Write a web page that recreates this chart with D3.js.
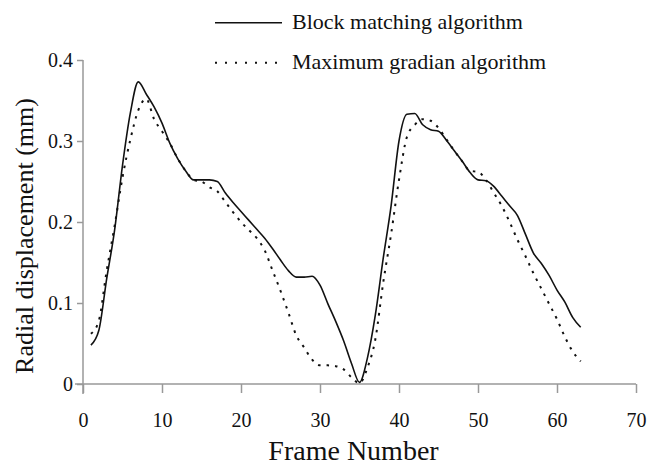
<!DOCTYPE html>
<html>
<head>
<meta charset="utf-8">
<script src="https://cdn.jsdelivr.net/npm/d3@7"></script>
<style>
  body { margin: 0; background: #fff; }
  svg text { font-family: "Liberation Serif", "DejaVu Serif", serif; }
</style>
</head>
<body>
<div id="chart"></div>
<script>
// frame numbers 1..63
const FRAMES = d3.range(1, 64);

// radial displacement (mm), block matching
const BLOCK_MATCHING = [
  0.048, 0.066, 0.130, 0.190, 0.270, 0.335, 0.373, 0.358, 0.342, 0.322,
  0.297, 0.278, 0.263, 0.252, 0.252, 0.252, 0.250, 0.236, 0.224, 0.213,
  0.202, 0.191, 0.180, 0.167, 0.153, 0.140, 0.132, 0.132, 0.133, 0.122,
  0.099, 0.077, 0.053, 0.025, 0.002, 0.032, 0.085, 0.155, 0.220, 0.300,
  0.333, 0.334, 0.320, 0.314, 0.312, 0.301, 0.288, 0.275, 0.261, 0.252,
  0.251, 0.244, 0.232, 0.220, 0.208, 0.185, 0.162, 0.149, 0.134, 0.116,
  0.101, 0.082, 0.070
];

// radial displacement (mm), maximum gradian
const MAX_GRADIAN = [
  0.062, 0.078, 0.140, 0.195, 0.255, 0.302, 0.338, 0.352, 0.327, 0.312,
  0.297, 0.278, 0.263, 0.252, 0.250, 0.243, 0.238, 0.225, 0.212, 0.200,
  0.190, 0.180, 0.165, 0.140, 0.115, 0.088, 0.060, 0.045, 0.030, 0.023,
  0.023, 0.022, 0.018, 0.008, 0.001, 0.020, 0.055, 0.125, 0.185, 0.252,
  0.305, 0.320, 0.327, 0.325, 0.316, 0.302, 0.288, 0.275, 0.263, 0.262,
  0.252, 0.236, 0.220, 0.200, 0.178, 0.158, 0.137, 0.118, 0.099, 0.080,
  0.058, 0.040, 0.028
];

const X_TICKS = [0, 10, 20, 30, 40, 50, 60, 70];
const Y_TICKS = [0, 0.1, 0.2, 0.3, 0.4];
const SERIES_NAMES = ["Block matching algorithm", "Maximum gradian algorithm"];

var width = 652,
    height = 467;
var margin = {top: 60, right: 16, bottom: 83, left: 83};
var axisColor = "#999";
var serif = "'Liberation Serif', 'DejaVu Serif', serif";

var svg = d3.select("#chart").append("svg")
  .attr("width", width)
  .attr("height", height)
  .attr("font-family", serif);

var x = d3.scaleLinear()
  .domain([0, 70])
  .range([margin.left, width - margin.right]);
var y = d3.scaleLinear()
  .domain([0, 0.4])
  .range([height - margin.bottom, margin.top]);

// axes
var xAxis = svg.append("g")
  .attr("transform", "translate(0," + y(0) + ")")
  .call(d3.axisBottom(x).tickValues(X_TICKS).tickSize(9).tickSizeOuter(0));
xAxis.attr("font-family", serif).attr("font-size", 20);
xAxis.select(".domain").remove();
xAxis.selectAll("line").attr("stroke", axisColor).attr("stroke-width", 1.5);
xAxis.selectAll("text")
  .attr("y", 43).attr("dy", null)
  .attr("fill", "#111");

var yAxis = svg.append("g")
  .attr("transform", "translate(" + x(0) + ",0)")
  .call(d3.axisLeft(y).tickValues(Y_TICKS).tickSize(6).tickSizeOuter(0)
    .tickFormat(d => d === 0 ? "0" : d3.format(".1f")(d)));
yAxis.attr("font-family", serif).attr("font-size", 20);
yAxis.select(".domain").remove();
yAxis.selectAll("line").attr("stroke", axisColor).attr("stroke-width", 1.5);
yAxis.selectAll("text")
  .attr("x", -10)
  .attr("fill", "#111");

// axis lines, crossing a little past the origin
svg.append("line")
  .attr("x1", x(0) - 8).attr("x2", x(70))
  .attr("y1", y(0)).attr("y2", y(0))
  .attr("stroke", axisColor).attr("stroke-width", 1.5);
svg.append("line")
  .attr("x1", x(0)).attr("x2", x(0))
  .attr("y1", y(0.4)).attr("y2", y(0) + 10)
  .attr("stroke", axisColor).attr("stroke-width", 1.5);

// axis titles
svg.append("text")
  .attr("x", (x(0) + x(70)) / 2 - 6)
  .attr("y", 460)
  .attr("text-anchor", "middle")
  .attr("font-size", 28)
  .attr("fill", "#111")
  .text("Frame Number");

svg.append("text")
  .attr("transform", "translate(33," + 236 + ") rotate(-90)")
  .attr("text-anchor", "middle")
  .attr("font-size", 26)
  .attr("fill", "#111")
  .text("Radial displacement (mm)");

// curves
var line = d3.line()
  .x((d, i) => x(FRAMES[i]))
  .y(d => y(d))
  .curve(d3.curveMonotoneX);

svg.append("path")
  .datum(BLOCK_MATCHING)
  .attr("fill", "none")
  .attr("stroke", "#111")
  .attr("stroke-width", 1.6)
  .attr("d", line);

svg.append("path")
  .datum(MAX_GRADIAN)
  .attr("fill", "none")
  .attr("stroke", "#111")
  .attr("stroke-width", 2)
  .attr("stroke-dasharray", "2.5,6")
  .attr("d", line);

// legend
var legend = svg.append("g").attr("class", "legend");
var legendRows = [
  {name: SERIES_NAMES[0], y: 22.7, dash: null, w: 1.5},
  {name: SERIES_NAMES[1], y: 62.7, dash: "2,8", w: 2}
];
legendRows.forEach(function(r) {
  legend.append("line")
    .attr("x1", 215).attr("x2", 282)
    .attr("y1", r.y).attr("y2", r.y)
    .attr("stroke", "#111")
    .attr("stroke-width", r.w)
    .attr("stroke-dasharray", r.dash);
  legend.append("text")
    .attr("x", 292)
    .attr("y", r.y + 6)
    .attr("font-size", 22)
    .attr("fill", "#111")
    .text(r.name);
});
</script>
</body>
</html>
